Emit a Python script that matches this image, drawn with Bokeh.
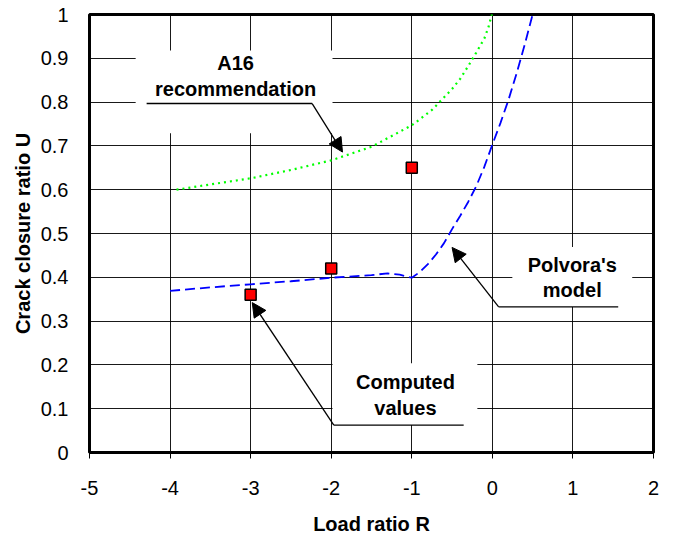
from bokeh.plotting import figure
from bokeh.models import Range1d, FixedTicker, Arrow, NormalHead
from bokeh.core.properties import value
from bokeh.embed import file_html
from bokeh.resources import INLINE

# ---- data ----
R_ticks = [-5, -4, -3, -2, -1, 0, 1, 2]
U_ticks = [0, 0.1, 0.2, 0.3, 0.4, 0.5, 0.6, 0.7, 0.8, 0.9, 1]

a16_R = [-3.92, -3.5, -3.0, -2.5, -2.0, -1.5, -1.0, -0.75, -0.5, -0.4, -0.3, -0.2, -0.1, -0.05, 0.0]
a16_U = [0.600, 0.612, 0.626, 0.645, 0.667, 0.698, 0.747, 0.782, 0.830, 0.853, 0.882, 0.913, 0.945, 0.970, 1.005]

polvora_R = [-4.0, -3.5, -3.0, -2.5, -2.0, -1.5, -1.3, -1.15, -1.0, -0.9, -0.8, -0.7, -0.6, -0.5,
             -0.4, -0.3, -0.2, -0.1, 0.0, 0.1, 0.2, 0.3, 0.4, 0.5, 0.52]
polvora_U = [0.369, 0.377, 0.384, 0.391, 0.399, 0.405, 0.409, 0.406, 0.399, 0.412, 0.430, 0.452, 0.478, 0.510,
             0.540, 0.572, 0.608, 0.652, 0.703, 0.752, 0.805, 0.865, 0.930, 1.000, 1.012]

computed_R = [-3, -2, -1]
computed_U = [0.36, 0.42, 0.65]

FONT = "Liberation Sans"

p = figure(width=675, height=540, output_backend="svg", toolbar_location=None,
           x_range=Range1d(-5, 2), y_range=Range1d(0, 1),
           min_border_left=89, min_border_right=22, min_border_top=14, min_border_bottom=88)
p.background_fill_color = "white"
p.border_fill_color = "white"
p.outline_line_color = "black"
p.outline_line_width = 3

p.xaxis.ticker = FixedTicker(ticks=R_ticks)
p.yaxis.ticker = FixedTicker(ticks=U_ticks)
p.xaxis.major_label_overrides = {t: f"{t:g}" for t in R_ticks}
p.yaxis.major_label_overrides = {t: f"{t:g}" for t in U_ticks}
p.grid.grid_line_color = "black"
p.grid.grid_line_width = 1
p.grid.grid_line_alpha = 0.9

p.axis.axis_line_color = None
p.axis.minor_tick_line_color = None
p.yaxis.major_tick_line_color = None
p.xaxis.major_tick_out = 6
p.xaxis.major_tick_in = 0
p.xaxis.major_tick_line_color = "black"
p.axis.major_label_text_font = FONT
p.axis.major_label_text_font_size = "20px"
p.axis.major_label_text_color = "black"
p.yaxis.major_label_standoff = 15
p.xaxis.major_label_standoff = 22

p.xaxis.axis_label = "Load ratio R"
p.yaxis.axis_label = "Crack closure ratio U"
p.axis.axis_label_text_font = FONT
p.axis.axis_label_text_font_style = "bold"
p.axis.axis_label_text_font_size = "20px"
p.axis.axis_label_text_color = "black"
p.yaxis.axis_label_standoff = 4
p.xaxis.axis_label_standoff = 15

# white label boxes masking the grid
p.quad(left=[-4.427, 0.248, -1.984], right=[-1.984, 1.736, -0.186],
       top=[0.918, 0.469, 0.204], bottom=[0.7287, 0.332, 0.0627],
       fill_color="white", line_color=None)

# curves
p.line(a16_R, a16_U, line_color="#00FF00", line_width=2.2, line_dash="2 4")
p.line(polvora_R, polvora_U, line_color="#0000FF", line_width=1.8, line_dash="10 5")
p.scatter(computed_R, computed_U, marker="square", size=11, fill_color="#FF0000",
          line_color="black", line_width=1.5)

# annotation texts
p.text(x=[-3.187, -3.187, 0.992, 0.992, -1.079, -1.079],
       y=[0.889, 0.8295, 0.4285, 0.3703, 0.1615, 0.1011],
       text=["A16", "recommendation", "Polvora's", "model", "Computed", "values"],
       text_font=value(FONT), text_font_style="bold", text_font_size="20px",
       text_align="center", text_baseline="middle", text_color="black")

# leader lines
p.line([-4.291, -2.236], [0.7967, 0.7967], line_color="black", line_width=1.5)
p.line([1.562, 0.078], [0.3326, 0.3326], line_color="black", line_width=1.3)
p.line([-0.356, -1.968], [0.0627, 0.0627], line_color="black", line_width=1.3)

for xs, ys, xe, ye in [(-2.236, 0.7967, -1.860, 0.6859),
                       (0.078, 0.3326, -0.500, 0.4682),
                       (-1.968, 0.0627, -2.980, 0.3422)]:
    p.add_layout(Arrow(end=NormalHead(size=14, fill_color="black", line_color="black"),
                       x_start=xs, y_start=ys, x_end=xe, y_end=ye,
                       line_color="black", line_width=1.3))

open("out.html", "w").write(file_html(p, INLINE))
